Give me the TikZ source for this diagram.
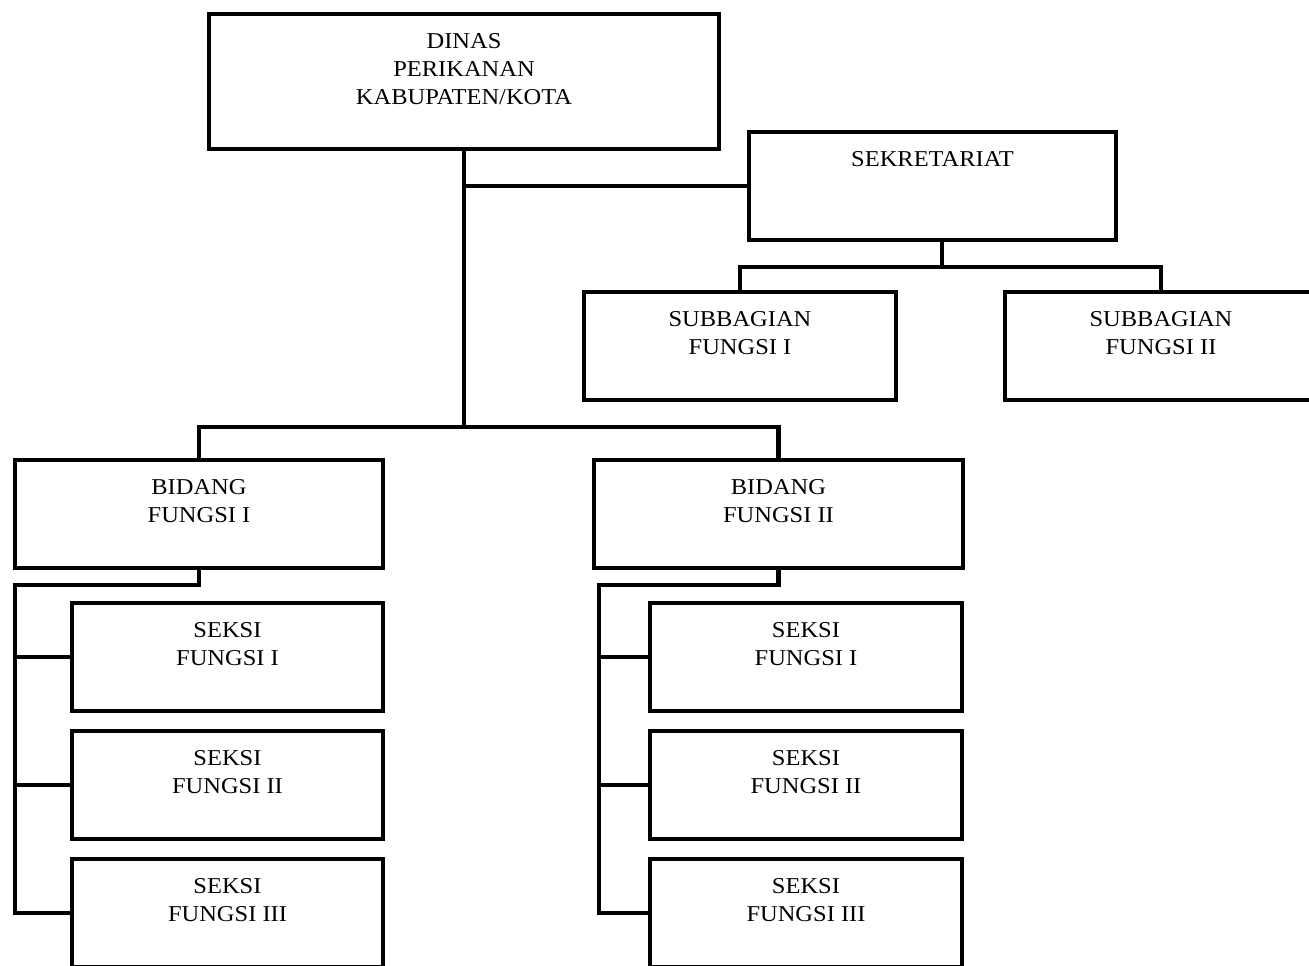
\documentclass[tikz,border=0pt]{standalone}
\usepackage{fontspec}
\setmainfont[FakeStretch=1.08]{Liberation Serif}
\usepackage{tikz}
\usetikzlibrary{positioning}
\tikzset{
box/.style={draw, line width=2.3pt, minimum height=2.16cm, outer sep=0pt, inner sep=0pt}, % every unit box
seksi/.style={box, minimum width=6.23cm}, % the small boxes under a bidang
link/.style={draw, line width=2.3pt, line join=miter}, % lines between the boxes
lbl/.style={anchor=north, yshift=-0.38cm, align=center, inner sep=0pt, font=\fontsize{12.9}{15.9}\selectfont}, % text in the upper part of a box
}

\begin{document}
\begin{tikzpicture}
\useasboundingbox (0,0) rectangle (26.18,19.3);
\clip (0,0) rectangle (26.18,19.3);

\node[box, minimum width=10.2cm, minimum height=2.7cm, label={[lbl]north:{DINAS\\PERIKANAN\\KABUPATEN/KOTA}}] (dinas) at (9.28,17.67) {};
\node[box, minimum width=7.34cm, label={[lbl]north:{SEKRETARIAT}}] (sek) at (18.65,15.58) {};
\node[box, minimum width=6.24cm, label={[lbl]north:{SUBBAGIAN\\FUNGSI I}}] (sub1) at (14.8,12.38) {};
\node[box, minimum width=6.24cm, label={[lbl]north:{SUBBAGIAN\\FUNGSI II}}] (sub2) at (23.22,12.38) {};
\node[box, minimum width=7.36cm, label={[lbl]north:{BIDANG\\FUNGSI I}}] (bid1) at (3.98,9.02) {};
\node[box, minimum width=7.38cm, label={[lbl]north:{BIDANG\\FUNGSI II}}] (bid2) at (15.57,9.02) {};

\node[seksi, label={[lbl]north:{SEKSI\\FUNGSI I}}] (s11) at (4.55,6.16) {};
\node[seksi, below=0.4cm of s11, label={[lbl]north:{SEKSI\\FUNGSI II}}] (s12) {};
\node[seksi, below=0.4cm of s12, label={[lbl]north:{SEKSI\\FUNGSI III}}] (s13) {};
\node[seksi, label={[lbl]north:{SEKSI\\FUNGSI I}}] (s21) at (16.12,6.16) {};
\node[seksi, below=0.4cm of s21, label={[lbl]north:{SEKSI\\FUNGSI II}}] (s22) {};
\node[seksi, below=0.4cm of s22, label={[lbl]north:{SEKSI\\FUNGSI III}}] (s23) {};

\coordinate (bidbus) at (9.28,10.76);
\coordinate (rail1) at (0.3,0);
\coordinate (rail2) at (11.98,0);

% dinas to sekretariat and the two bidang
\draw[link] (dinas.south) -- (bidbus);
\draw[link] (sek.west) -- (sek.west -| dinas.south);
\draw[link] (bid1.north) -- (bid1.north |- bidbus) -| (bid2.north);

% sekretariat to the subbagian
\draw[link] ([xshift=0.19cm]sek.south) -- ++(0,-0.54) coordinate (subbus);
\draw[link] (sub1.north) |- (subbus) -| (sub2.north);

% bidang to seksi
\draw[link] (bid1.south) -- ++(0,-0.34) -| (rail1 |- s13.west) -- (s13.west);
\draw[link] (s11.west) -- (s11.west -| rail1);
\draw[link] (s12.west) -- (s12.west -| rail1);
\draw[link] (bid2.south) -- ++(0,-0.34) -| (rail2 |- s23.west) -- (s23.west);
\draw[link] (s21.west) -- (s21.west -| rail2);
\draw[link] (s22.west) -- (s22.west -| rail2);
\end{tikzpicture}
\end{document}
